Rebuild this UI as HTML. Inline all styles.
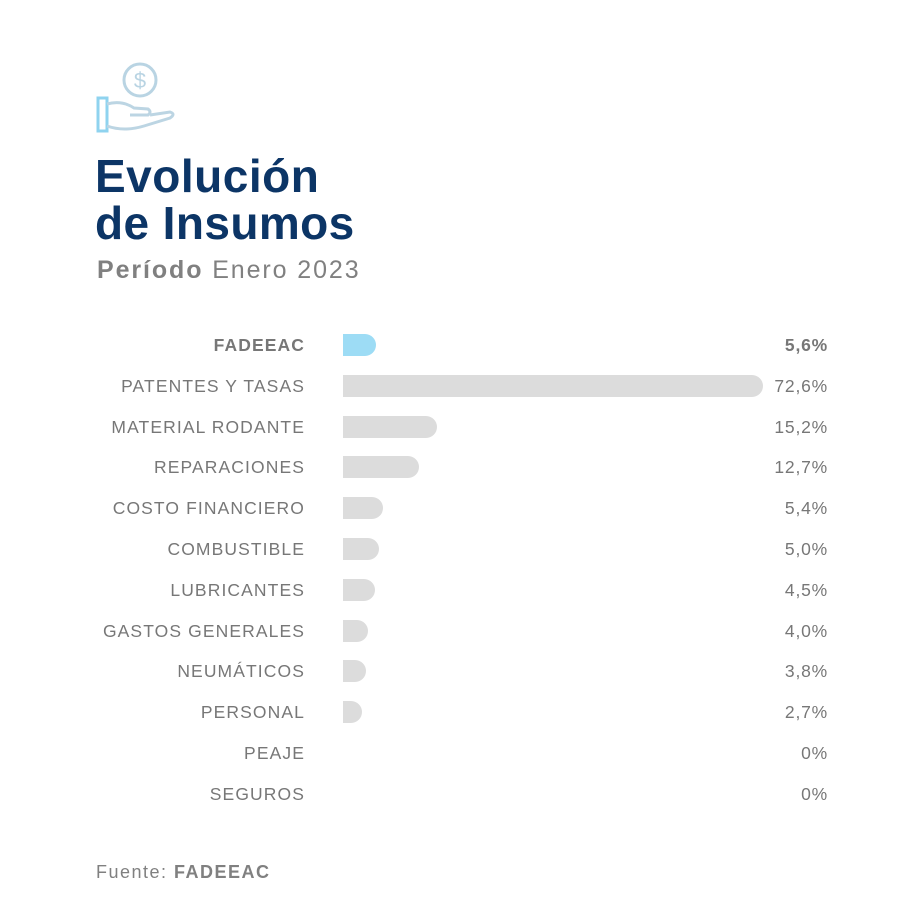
<!DOCTYPE html>
<html><head><meta charset="utf-8"><style>
body{margin:0;width:900px;height:900px;background:#fff;font-family:"Liberation Sans",sans-serif;position:relative;overflow:hidden}
.t{position:absolute;left:95px;color:#0c3566;font-weight:bold;font-size:46px;letter-spacing:0.5px;line-height:1}
.row{position:absolute;left:0;width:900px;height:22px}
.lab{position:absolute;right:595px;top:0;line-height:22px;font-size:17.5px;color:#777;letter-spacing:1.1px;white-space:nowrap}
.val{position:absolute;right:72px;top:0;line-height:22px;font-size:17.5px;color:#777;letter-spacing:0.8px;white-space:nowrap}
.bar{position:absolute;left:343px;top:0;height:22px;background:#dcdcdc;border-radius:0 11px 11px 0}
</style></head><body>
<svg style="position:absolute;left:94px;top:60px" width="84" height="76" viewBox="0 0 84 76">
<circle cx="46" cy="20" r="16" fill="none" stroke="#b9d4e3" stroke-width="3"/>
<text x="46" y="28" text-anchor="middle" font-family="Liberation Sans" font-size="22" fill="#b9d4e3">$</text>
<rect x="4" y="38" width="9" height="33" fill="none" stroke="#8fd3ef" stroke-width="3"/>
<path d="M13 44 Q28 40 40 48 L54 49 Q58 52 54 55 L36 55 M13 66 Q30 72 50 66 L76 58 Q82 54 76 52 L56 55" fill="none" stroke="#bcd5e3" stroke-width="3"/>
</svg>
<div class="t" style="top:153px">Evolución</div>
<div class="t" style="top:200px;letter-spacing:0.4px">de Insumos</div>
<div style="position:absolute;left:97px;top:256px;font-size:25px;color:#808080;letter-spacing:1.9px"><b>Período</b> Enero 2023</div>

<div class="row" style="top:334px"><div class="lab" style="font-weight:bold">FADEEAC</div><div class="bar" style="width:33px;background:#9ddcf5"></div><div class="val" style="font-weight:bold">5,6%</div></div>
<div class="row" style="top:375px"><div class="lab">PATENTES Y TASAS</div><div class="bar" style="width:420px"></div><div class="val">72,6%</div></div>
<div class="row" style="top:416px"><div class="lab">MATERIAL RODANTE</div><div class="bar" style="width:94px"></div><div class="val">15,2%</div></div>
<div class="row" style="top:456px"><div class="lab">REPARACIONES</div><div class="bar" style="width:76px"></div><div class="val">12,7%</div></div>
<div class="row" style="top:497px"><div class="lab">COSTO FINANCIERO</div><div class="bar" style="width:40px"></div><div class="val">5,4%</div></div>
<div class="row" style="top:538px"><div class="lab">COMBUSTIBLE</div><div class="bar" style="width:36px"></div><div class="val">5,0%</div></div>
<div class="row" style="top:579px"><div class="lab">LUBRICANTES</div><div class="bar" style="width:32px"></div><div class="val">4,5%</div></div>
<div class="row" style="top:620px"><div class="lab">GASTOS GENERALES</div><div class="bar" style="width:25px"></div><div class="val">4,0%</div></div>
<div class="row" style="top:660px"><div class="lab">NEUMÁTICOS</div><div class="bar" style="width:23px"></div><div class="val">3,8%</div></div>
<div class="row" style="top:701px"><div class="lab">PERSONAL</div><div class="bar" style="width:19px"></div><div class="val">2,7%</div></div>
<div class="row" style="top:742px"><div class="lab">PEAJE</div><div class="val">0%</div></div>
<div class="row" style="top:783px"><div class="lab">SEGUROS</div><div class="val">0%</div></div>

<div style="position:absolute;left:96px;top:862px;font-size:18px;color:#808080;letter-spacing:1.5px">Fuente: <b>FADEEAC</b></div>
</body></html>
